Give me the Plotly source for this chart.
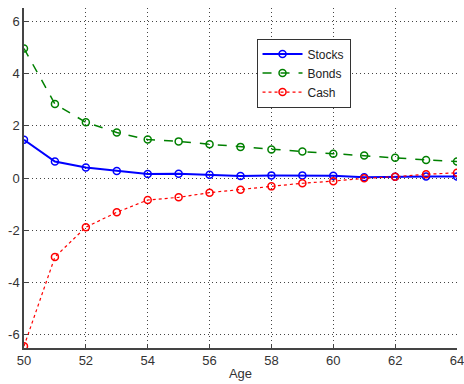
import plotly.graph_objects as go

ages = list(range(50, 65))
stocks = [1.46, 0.63, 0.40, 0.27, 0.15, 0.16, 0.12, 0.08, 0.10, 0.10, 0.09, 0.03, 0.05, 0.06, 0.06]
bonds = [4.95, 2.83, 2.13, 1.74, 1.47, 1.40, 1.29, 1.19, 1.09, 1.01, 0.93, 0.86, 0.77, 0.69, 0.63]
cash = [-6.43, -3.02, -1.88, -1.31, -0.84, -0.74, -0.56, -0.45, -0.32, -0.20, -0.12, -0.01, 0.05, 0.14, 0.20]

x_ticks = [50, 52, 54, 56, 58, 60, 62, 64]
y_ticks = [-6, -4, -2, 0, 2, 4, 6]

fig = go.Figure()
fig.add_trace(go.Scatter(x=ages, y=stocks, name="Stocks", mode="lines+markers",
                         line=dict(color="#0000ff", width=2),
                         marker=dict(symbol="circle-open", size=7, line=dict(width=1.5, color="#0000ff"))))
fig.add_trace(go.Scatter(x=ages, y=bonds, name="Bonds", mode="lines+markers",
                         line=dict(color="#008000", width=1.5, dash="dash"),
                         marker=dict(symbol="circle-open", size=7, line=dict(width=1.5, color="#008000"))))
fig.add_trace(go.Scatter(x=ages, y=cash, name="Cash", mode="lines+markers",
                         line=dict(color="#ff0000", width=1.2, dash="dot"),
                         marker=dict(symbol="circle-open", size=7, line=dict(width=1.5, color="#ff0000"))))

axis_common = dict(showgrid=True, gridcolor="#444444", griddash="1px,3px", gridwidth=1,
                   showline=True, linecolor="#444444", linewidth=1.5,
                   ticks="inside", ticklen=4, tickcolor="#444444",
                   zeroline=False, automargin=False, ticklabeloverflow="allow",
                   tickfont=dict(size=13, color="#333333"))

fig.update_xaxes(range=[50, 64], tickvals=x_ticks, ticktext=[str(v) for v in x_ticks],
                 title=dict(text="Age", font=dict(size=13, color="#333333"), standoff=2),
                 **axis_common)
fig.update_yaxes(range=[-6.5, 6.5], tickvals=y_ticks, ticktext=[str(v) for v in y_ticks],
                 **axis_common)

fig.update_layout(
    width=464, height=384,
    margin=dict(l=24, r=7, t=8, b=36),
    paper_bgcolor="white", plot_bgcolor="white",
    font=dict(family="Liberation Sans, Arial, sans-serif", size=13, color="#333333"),
    legend=dict(x=0.537, y=0.91, xanchor="left", yanchor="top",
                bgcolor="white", bordercolor="#333333", borderwidth=1,
                font=dict(size=12, color="#222222"),
                itemwidth=40, tracegroupgap=0),
    showlegend=True,
)

fig.write_html("out.html", config={"displayModeBar": False},
               post_script="document.body.style.margin='0';document.body.style.overflow='hidden';")
